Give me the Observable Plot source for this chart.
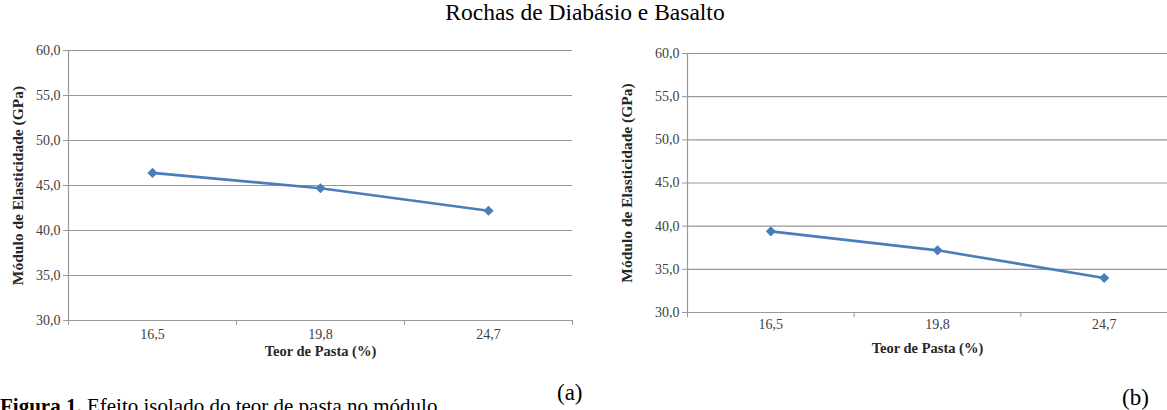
<!DOCTYPE html>
<html>
<head>
<meta charset="utf-8">
<script src="https://cdn.jsdelivr.net/npm/d3@7"></script>
<script src="https://cdn.jsdelivr.net/npm/@observablehq/plot@0.6"></script>
<style>
  html, body { margin: 0; padding: 0; background: #fff; }
  #page { position: relative; width: 1167px; height: 410px; overflow: hidden; background: #fff; font-family: "Liberation Serif", "Times New Roman", serif; }
  #page svg, #page svg text { font-family: "Liberation Serif", "Times New Roman", serif !important; }
  .abs { position: absolute; white-space: nowrap; color: #000; }
  #title { left: 0; width: 1170px; text-align: center; top: 1px; font-size: 23.5px; line-height: 23px; }
  #la { left: 557px; top: 381px; font-size: 23px; line-height: 23px; }
  #lb { left: 1122px; top: 386px; font-size: 23px; line-height: 23px; }
  #caption { left: 0; top: 396px; font-size: 21px; line-height: 21px; }
  #chartA { position: absolute; left: 0; top: 0; }
  #chartB { position: absolute; left: 585px; top: 0; }
</style>
</head>
<body>
<div id="page">
  <div id="title" class="abs">Rochas de Diabásio e Basalto</div>
  <div id="chartA"></div>
  <div id="chartB"></div>
  <div id="la" class="abs">(a)</div>
  <div id="lb" class="abs">(b)</div>
  <div id="caption" class="abs"><b>Figura 1.</b> Efeito isolado do teor de pasta no módulo</div>
</div>
<script>
// ---- data ----
const categories = ["16,5", "19,8", "24,7"];
const valuesA = [46.4, 44.7, 42.2];
const valuesB = [39.4, 37.2, 34.0];
const yTicks = [30, 35, 40, 45, 50, 55, 60];
const xTitle = "Teor de Pasta (%)";
const yTitle = "Módulo de Elasticidade (GPa)";

const lineColor = "#4a7ebb";
const gridColor = "#979797";
const labelColor = "#404040";
const serif = "Liberation Serif";

function makeChart(values, o) {
  const data = categories.map((c, i) => ({cat: c, idx: i + 0.5, v: values[i]}));
  const bounds = d3.range(categories.length + 1);
  const centers = categories.map((c, i) => i + 0.5);
  return Plot.plot({
    width: o.width, height: o.height,
    marginLeft: o.marginLeft, marginRight: o.marginRight,
    marginTop: o.marginTop, marginBottom: o.marginBottom,
    style: {fontFamily: serif, fontSize: "14px", background: "transparent", overflow: "visible", color: labelColor},
    x: {domain: [0, categories.length], range: o.xRange, axis: null},
    y: {domain: [30, 60], axis: null},
    marks: [
      Plot.gridY(yTicks, {stroke: gridColor, strokeOpacity: 1, strokeWidth: 1.2}),
      Plot.axisY(yTicks, {tickSize: 5, tickPadding: 3, stroke: gridColor, strokeOpacity: 1, fill: labelColor, label: null,
        fontFamily: serif, fontSize: 14, tickFormat: d => d.toFixed(1).replace(".", ",")}),
      Plot.ruleX([0], {stroke: gridColor, strokeWidth: 1.2}),
      Plot.axisX(bounds, {tickSize: 5, stroke: gridColor, strokeOpacity: 1, tickFormat: () => "", label: null}),
      Plot.axisX(centers, {tickSize: 0, tickPadding: o.xLabelPad, fill: labelColor, label: null,
        fontFamily: serif, fontSize: 14, tickFormat: d => categories[Math.floor(d)]}),
      Plot.line(data, {x: "idx", y: "v", stroke: lineColor, strokeWidth: 2.6}),
      Plot.dot(data, {x: "idx", y: "v", symbol: "square", rotate: 45, fill: lineColor, stroke: lineColor, r: 3.2}),
      Plot.text([yTitle], {frameAnchor: "left", textAnchor: "middle", dx: o.yTitleDx, rotate: -90, fontWeight: "bold",
        fontFamily: serif, fontSize: 15.5, fill: "#262626"}),
      Plot.text([xTitle], {frameAnchor: "bottom", textAnchor: "middle", dy: o.xTitleDy, fontWeight: "bold",
        fontFamily: serif, fontSize: 14.5, fill: "#262626"})
    ]
  });
}

document.getElementById("chartA").append(makeChart(valuesA, {
  width: 585, height: 370, marginLeft: 68, marginRight: 13, marginTop: 50, marginBottom: 50,
  xRange: [68, 572], xLabelPad: 9, yTitleDx: -50, xTitleDy: 35
}));
document.getElementById("chartB").append(makeChart(valuesB, {
  width: 582, height: 370, marginLeft: 102, marginRight: 0, marginTop: 53, marginBottom: 58,
  xRange: [102, 602], xLabelPad: 7, yTitleDx: -60, xTitleDy: 40
}));
</script>
</body>
</html>
